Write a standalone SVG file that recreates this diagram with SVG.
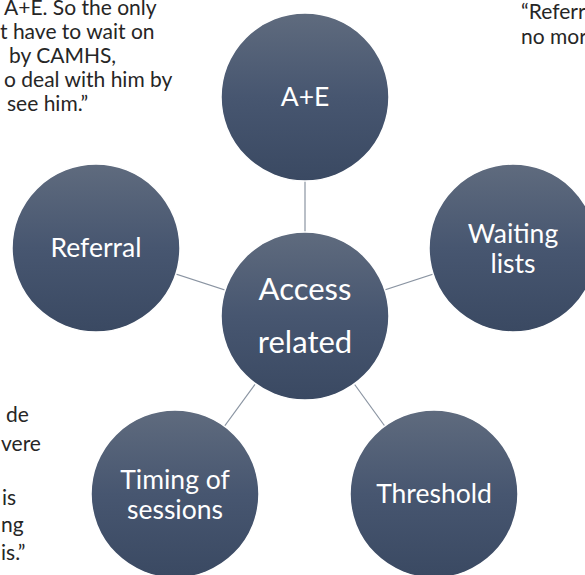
<svg xmlns="http://www.w3.org/2000/svg" width="585" height="575" viewBox="0 0 585 575">
<defs>
<linearGradient id="g" x1="0" y1="0" x2="0" y2="1">
<stop offset="0" stop-color="#5f6b7e"/>
<stop offset="0.5" stop-color="#475670"/>
<stop offset="1" stop-color="#3a4962"/>
</linearGradient>
</defs>
<style>
.c{fill:url(#g);stroke:#ffffff;stroke-width:1.5}
.t{font-family:Lato,"Open Sans","Liberation Sans",sans-serif;fill:#ffffff;text-anchor:middle;font-size:26.5px}
.big{font-size:31px}
.q{font-family:Lato,"Open Sans","Liberation Sans",sans-serif;fill:#262626;font-size:21px}
.l{stroke:#8a94a2;stroke-width:1.2}
</style>
<rect width="585" height="575" fill="#ffffff"/>
<g id="quotes">
<text class="q" x="4" y="15">A+E. So the only</text>
<text class="q" x="0" y="39">t have to wait on</text>
<text class="q" x="9" y="63">by CAMHS,</text>
<text class="q" x="4" y="87">o deal with him by</text>
<text class="q" x="7" y="111">see him.”</text>
<text class="q" x="521" y="19">“Referr</text>
<text class="q" x="521" y="44">no mor</text>
<text class="q" x="6" y="422">de</text>
<text class="q" x="1" y="451">vere</text>
<text class="q" x="2" y="505">is</text>
<text class="q" x="1" y="532">ng</text>
<text class="q" x="1" y="560">is.”</text>
</g>
<g id="connectors">
<line class="l" x1="305" y1="316" x2="305" y2="97"/>
<line class="l" x1="305" y1="316" x2="96" y2="248"/>
<line class="l" x1="305" y1="316" x2="513" y2="248"/>
<line class="l" x1="305" y1="316" x2="175" y2="494"/>
<line class="l" x1="305" y1="316" x2="434" y2="494"/>
</g>
<g id="ae">
<circle class="c" cx="305" cy="97" r="84"/>
<text class="t" x="305" y="106">A+E</text>
</g>
<g id="referral">
<circle class="c" cx="96" cy="248" r="84"/>
<text class="t" x="96" y="257">Referral</text>
</g>
<g id="waiting">
<circle class="c" cx="513" cy="248" r="84"/>
<text class="t" x="513" y="243">Waiting</text>
<text class="t" x="513" y="273">lists</text>
</g>
<g id="timing">
<circle class="c" cx="175" cy="494" r="84"/>
<text class="t" x="175" y="489">Timing of</text>
<text class="t" x="175" y="519">sessions</text>
</g>
<g id="threshold">
<circle class="c" cx="434" cy="494" r="84"/>
<text class="t" x="434" y="503">Threshold</text>
</g>
<g id="access">
<circle class="c" cx="305" cy="316" r="84"/>
<text class="t big" x="305" y="300">Access</text>
<text class="t big" x="305" y="353">related</text>
</g>
</svg>
